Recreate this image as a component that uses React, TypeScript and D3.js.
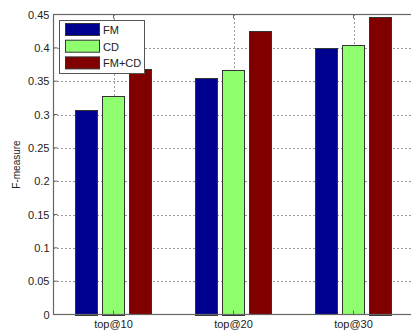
import React from 'react';
import * as d3 from 'd3';

const categories = ['top@10', 'top@20', 'top@30'];
const seriesNames = ['FM', 'CD', 'FM+CD'];
const fmValues = [0.307, 0.355, 0.399];
const cdValues = [0.328, 0.367, 0.404];
const fmcdValues = [0.368, 0.425, 0.447];
const yTicks = [0, 0.05, 0.1, 0.15, 0.2, 0.25, 0.3, 0.35, 0.4, 0.45];
const colors = ['#00008f', '#8fff70', '#800000'];

const W = 411;
const H = 330;

const App: React.FC = () => {
  const series = [fmValues, cdValues, fmcdValues];
  const left = 53.5;
  const right = 413.5;
  const top = 14.5;
  const bottom = 314.5;

  // matlab-like: categories at 1..3, xlim 0.5..3.5
  const x = d3.scaleLinear().domain([0.5, 3.5]).range([left, right]);
  const y = d3.scaleLinear().domain([0, 0.45]).range([bottom, top]);
  const unit = x(1) - x(0);
  const barW = unit * 0.185;
  const step = unit * 0.225;

  const font = 'Liberation Sans, Arial, sans-serif';

  return (
    <svg width={W} height={H} style={{ position: 'absolute', left: 0, top: 0, background: '#fff' }}>
      {/* grid */}
      {yTicks.slice(1, -1).map(t => (
        <line key={'gy' + t} x1={left} x2={right} y1={Math.round(y(t)) + 0.5} y2={Math.round(y(t)) + 0.5}
          stroke="#333" strokeWidth={1} strokeDasharray="1,3" />
      ))}
      {categories.map((c, i) => (
        <line key={'gx' + c} x1={Math.round(x(i + 1)) + 0.5} x2={Math.round(x(i + 1)) + 0.5} y1={top} y2={bottom}
          stroke="#333" strokeWidth={1} strokeDasharray="1,3" />
      ))}
      {/* bars */}
      {series.map((vals, s) =>
        vals.map((v, i) => {
          const cx = x(i + 1) + (s - 1) * step;
          return (
            <rect key={s + '-' + i} x={Math.round(cx - barW / 2) + 0.5} y={Math.round(y(v)) + 0.5}
              width={Math.round(barW)} height={Math.round(bottom - y(v))}
              fill={colors[s]} stroke="#333" strokeWidth={1} />
          );
        })
      )}
      {/* axes box */}
      <rect x={left} y={top} width={right - left} height={bottom - top} fill="none" stroke="#666" strokeWidth={1.2} />
      {yTicks.map(t => (
        <g key={'yt' + t}>
          <line x1={left} x2={left + 4} y1={y(t)} y2={y(t)} stroke="#666" />
          <text x={left - 4} y={y(t) + 4} textAnchor="end" fontSize={11} fontFamily={font} fill="#222">{t}</text>
        </g>
      ))}
      {categories.map((c, i) => (
        <g key={'xt' + c}>
          <line x1={x(i + 1)} x2={x(i + 1)} y1={bottom} y2={bottom - 4} stroke="#666" />
          <line x1={x(i + 1)} x2={x(i + 1)} y1={top} y2={top + 4} stroke="#666" />
          <text x={x(i + 1)} y={bottom + 13} textAnchor="middle" fontSize={11} fontFamily={font} fill="#222">{c}</text>
        </g>
      ))}
      <text transform={`translate(20,${(top + bottom) / 2}) rotate(-90)`} textAnchor="middle" fontSize={10}
        fontFamily={font} fill="#222">F-measure</text>
      {/* legend */}
      <g>
        <rect x={59.5} y={20.5} width={85} height={53} fill="#fff" stroke="#555" strokeWidth={1} />
        {seriesNames.map((n, i) => (
          <g key={n}>
            <rect x={65.5} y={23.5 + i * 16.7} width={34} height={12} fill={colors[i]} stroke="#333" />
            <text x={103} y={34 + i * 16.7} fontSize={11} fontFamily={font} fill="#222">{n}</text>
          </g>
        ))}
      </g>
    </svg>
  );
};

export default App;
